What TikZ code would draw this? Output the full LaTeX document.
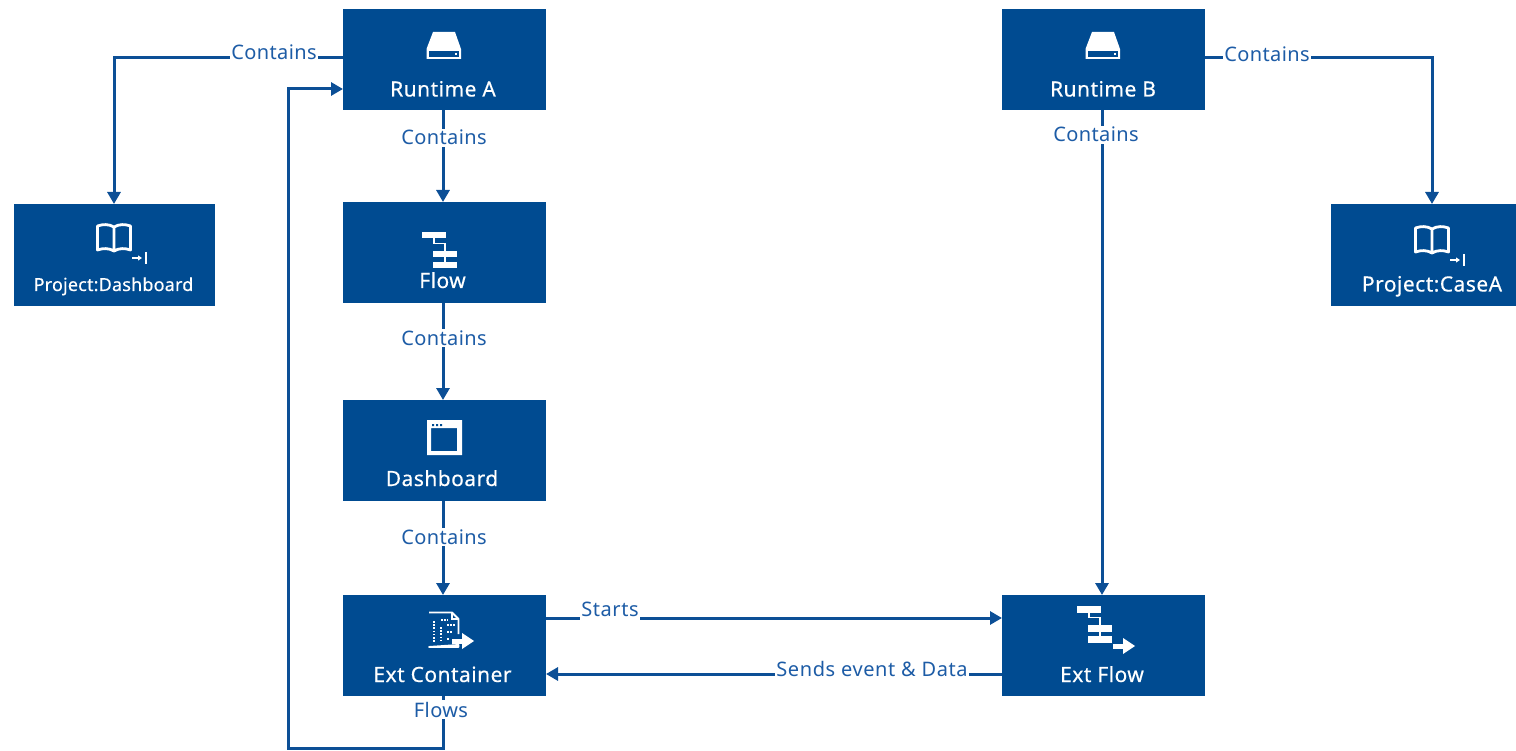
\documentclass[tikz,border=0pt]{standalone}
\usepackage{fontspec}
\setmainfont{Noto Sans}
\newfontfamily\titlefont[LetterSpace=2.2,FakeBold=0.35]{Noto Sans}
\newfontfamily\smalltitlefont[LetterSpace=1.0,FakeBold=0.35]{Noto Sans}
\newfontfamily\labelfont[LetterSpace=2.0]{Noto Sans}
\newfontfamily\widelabelfont[LetterSpace=3.0]{Noto Sans}
\usetikzlibrary{arrows.meta,calc}
\definecolor{boxblue}{HTML}{004B91}
\definecolor{lineblue}{HTML}{0C4F96}
\definecolor{labelblue}{HTML}{1D5CA6}
\tikzset{
  blockbox/.style={rectangle,fill=boxblue,inner sep=0pt,outer sep=0pt,minimum width=203pt,minimum height=101pt},
  title/.style={text=white,font=\titlefont\fontsize{21}{24}\selectfont,inner sep=0pt,anchor=base},
  conn/.style={draw=lineblue,line width=3pt,-{Triangle[length=12pt,width=13pt]}},
  linelabel/.style={text=labelblue,fill=white,font=\labelfont\fontsize{20}{24}\selectfont,inner sep=1.5pt,anchor=base},
  widelabel/.style={linelabel,font=\widelabelfont\fontsize{20}{24}\selectfont},
}
\newcommand{\bookicon}[2]{%
  \begin{scope}[shift={(#1,#2)}]
    \draw[draw=white,line width=2.8pt,line join=round] (0,-12) .. controls (-5,-15) and (-11,-15) .. (-16.5,-13) -- (-16.5,11) .. controls (-11,9) and (-5,9) .. (0,12) .. controls (5,9) and (11,9) .. (16.5,11) -- (16.5,-13) .. controls (11,-15) and (5,-15) .. (0,-12) -- (0,12);
    \draw[white,line width=1.8pt,-{Triangle[length=4pt,width=5pt]}] (18,19) -- (28,19);
    \draw[white,line width=1.8pt] (32,13) -- (32,25);
  \end{scope}}
\newcommand{\diskicon}[2]{%
  \begin{scope}[shift={(#1,#2)}]
    \fill[white] (-10.5,-14) -- (11.5,-14) -- (17.5,3) -- (17.5,13) -- (-17,13) -- (-17,3) -- cycle;
    \fill[boxblue] (-14.5,5) rectangle (15.5,11);
    \fill[white] (11,7) rectangle (13,9);
  \end{scope}}
\newcommand{\flowicon}[2]{%
  \begin{scope}[shift={(#1,#2)}]
    \fill[white] (0,0) rectangle (24,6.5);
    \fill[white] (11,19) rectangle (35,25.5);
    \fill[white] (11,30) rectangle (35,36.5);
    \draw[white,line width=1.3pt] (12,6) -- (12,11.5) -- (23,11.5) -- (23,30);
  \end{scope}}
\begin{document}
\begin{tikzpicture}[x=1pt,y=-1pt]
\useasboundingbox (0,0) rectangle (1516,751);
% boxes
\node[blockbox] (ra) at (444.5,59.5) {};
\node[blockbox] (fl) at (444.5,252.5) {};
\node[blockbox] (da) at (444.5,450.5) {};
\node[blockbox] (ec) at (444.5,645.5) {};
\node[blockbox] (rb) at (1103.5,59.5) {};
\node[blockbox] (ef) at (1103.5,645.5) {};
\node[blockbox,minimum width=201pt,minimum height=102pt] (pd) at (114.5,255) {};
\node[blockbox,minimum width=185pt,minimum height=102pt] (pc) at (1423.5,255) {};
% titles
\node[title] (tra) at (443,96.5) {Runtime A};
\node[title] (tfl) at (442.5,288) {Flow};
\node[title] (tda) at (442,486) {Dashboard};
\node[title] (tec) at (442.5,682) {Ext Container};
\node[title] (trb) at (1103,96.5) {Runtime B};
\node[title] (tef) at (1102,682) {Ext Flow};
\node[title,font=\smalltitlefont\fontsize{18}{22}\selectfont] (tpd) at (113.5,291) {Project:Dashboard};
\node[title] (tpc) at (1432,291.5) {Project:CaseA};
% icons
\diskicon{443.5}{46}
\diskicon{1102.5}{46}
\bookicon{114}{239}
\bookicon{1432}{241}
\flowicon{422}{232}
\flowicon{1077}{606}
\fill[white] (1113,643.5) rectangle (1125,648.5);
\fill[white] (1123,638) -- (1135,646) -- (1123,654) -- cycle;
% dashboard icon
\fill[white,even odd rule] (427,420) rectangle (462,455) (431,428) rectangle (457,451);
\fill[boxblue] (432,424) rectangle (434,426) (436,424) rectangle (438,426) (440,424) rectangle (442,426);
% container icon
\draw[white,line width=1.9pt,line join=round] (429,612.5) -- (452,612.5) -- (458.5,619) -- (458.5,634) (458.5,645) -- (458.5,647) -- (429,647) -- cycle;
\draw[white,line width=1.2pt] (452,612.5) -- (452,619) -- (458.5,619);
\draw[white,line width=1.6pt,dash pattern=on 1.6pt off 1.6pt] (434,621) -- (434,642) (441,620) -- (448,620) (441,627) -- (441,642) (447,625) -- (455,625) (447,632) -- (453,632) (447,639) -- (450,639);
\fill[white] (452,638.5) rectangle (464,643.5);
\fill[white] (462,633) -- (474,641) -- (462,649) -- cycle;
% connectors
\draw[conn] ([yshift=1.5pt]ra.west) -- ++(-229,0) -- (pd.north -| 114,204);
\draw[conn] (ra.south -| 443,110) -- (fl.north -| 443,202);
\draw[conn] (fl.south -| 443,303) -- (da.north -| 443,400);
\draw[conn] (da.south -| 443,501) -- (ec.north -| 443,595);
\draw[conn] (ec.south -| 443,696) -- ++(0,52) -- ++(-155,0) |- ([yshift=-29.5pt]ra.west);
\draw[conn] ([yshift=1.5pt]rb.east) -- ++(227,0) -- (pc.north -| 1432,204);
\draw[conn] (rb.south -| 1102,110) -- (ef.north -| 1102,595);
\draw[conn] ([yshift=27.5pt]ec.east) -- ([yshift=27.5pt]ef.west);
\draw[conn] ([yshift=-28.5pt]ef.west) -- ([yshift=-28.5pt]ec.east);
% labels
\node[linelabel] (l1) at (274,60) {Contains};
\node[linelabel] (l2) at (444,145) {Contains};
\node[linelabel] (l3) at (444,345) {Contains};
\node[linelabel] (l4) at (444,544) {Contains};
\node[linelabel] (l5) at (1267,62) {Contains};
\node[linelabel] (l6) at (1096,142) {Contains};
\node[widelabel,inner ysep=5pt] (l7) at (610,616) {Starts};
\node[widelabel] (l8) at (872,676) {Sends event \& Data};
\node[linelabel] (l9) at (441,717) {Flows};
\end{tikzpicture}
\end{document}
